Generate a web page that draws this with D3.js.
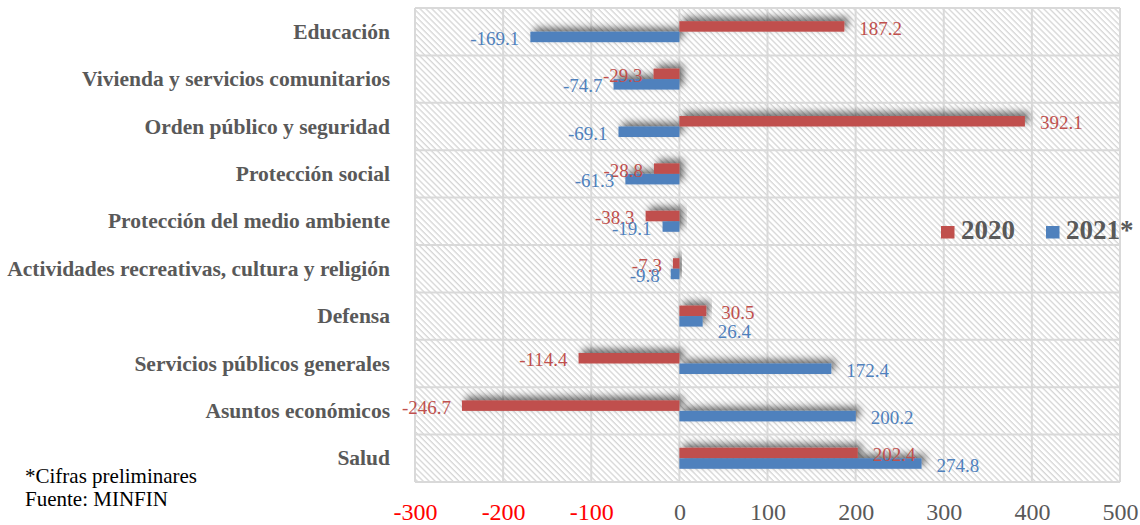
<!DOCTYPE html>
<html><head><meta charset="utf-8">
<script src="https://cdn.jsdelivr.net/npm/d3@7"></script>
<style>
html,body{margin:0;padding:0;background:#fff;}
svg{display:block;}
</style></head>
<body>
<svg id="chart" width="1140" height="525"></svg>
<script>
const categories = ["Educación","Vivienda y servicios comunitarios","Orden público y seguridad","Protección social","Protección del medio ambiente","Actividades recreativas, cultura y religión","Defensa","Servicios públicos generales","Asuntos económicos","Salud"];
const values2020 = [187.2,-29.3,392.1,-28.8,-38.3,-7.3,30.5,-114.4,-246.7,202.4];
const values2021 = [-169.1,-74.7,-69.1,-61.3,-19.1,-9.8,26.4,172.4,200.2,274.8];
const seriesNames = ["2020","2021*"];
const tickValues = [-300,-200,-100,0,100,200,300,400,500];

const colors = {"2020":"#c0504d","2021*":"#4f81bd"};
const serif = "'Liberation Serif','Times New Roman',serif";
const loc = d3.formatLocale({decimal:".", thousands:",", grouping:[3], currency:["",""], minus:"-"});
const fmt1 = loc.format(".1f"), fmt0 = loc.format("d");

const svg = d3.select("#chart");
const pLeft = 415, pRight = 1120, pTop = 8, pBottom = 482;

const x = d3.scaleLinear().domain([-300,500]).range([pLeft,pRight]);
const y = d3.scaleBand().domain(categories).range([pTop,pBottom]).paddingInner(0.557).paddingOuter(0.2785);
const ys = d3.scaleBand().domain(seriesNames).range([0,y.bandwidth()]);

const defs = svg.append("defs");
const pat = defs.append("pattern").attr("id","hatch").attr("patternUnits","userSpaceOnUse")
  .attr("width",4.2).attr("height",4.2).attr("patternTransform","rotate(-45)");
pat.append("rect").attr("width",4.2).attr("height",4.2).attr("fill","#fff");
pat.append("line").attr("x1",1).attr("y1",0).attr("x2",1).attr("y2",4.2)
  .attr("stroke","#d2d2d2").attr("stroke-width",1.2);

const flt = defs.append("filter").attr("id","shadow").attr("x","-20%").attr("y","-200%").attr("width","140%").attr("height","400%");
flt.append("feDropShadow").attr("dx",4).attr("dy",-4).attr("stdDeviation",3.5)
  .attr("flood-color","#000").attr("flood-opacity",0.55);

// plot background
svg.append("rect").attr("x",pLeft).attr("y",pTop).attr("width",pRight-pLeft).attr("height",pBottom-pTop)
  .attr("fill","url(#hatch)");

// grid
const step = y.step();
const rowEdges = d3.range(categories.length+1).map(i => pTop + i*step);
svg.append("g").selectAll("line.h").data(rowEdges).join("line")
  .attr("x1",pLeft).attr("x2",pRight).attr("y1",d=>d).attr("y2",d=>d)
  .attr("stroke","#d9d9d9").attr("stroke-width",2);
svg.append("g").selectAll("line.v").data(tickValues).join("line")
  .attr("x1",d=>x(d)).attr("x2",d=>x(d)).attr("y1",pTop).attr("y2",pBottom)
  .attr("stroke","#d9d9d9").attr("stroke-width",2);

// bars
const rows = categories.map((c,i)=>({cat:c, vals:[{s:"2020",v:values2020[i],cat:c},{s:"2021*",v:values2021[i],cat:c}]}));
const rowG = svg.append("g").selectAll("g.row").data(rows).join("g")
  .attr("transform",d=>`translate(0,${y(d.cat)})`);
rowG.append("g").attr("filter","url(#shadow)").selectAll("rect").data(d=>d.vals).join("rect")
  .attr("x",d=>x(Math.min(0,d.v))).attr("width",d=>Math.abs(x(d.v)-x(0)))
  .attr("y",d=>ys(d.s)).attr("height",ys.bandwidth())
  .attr("fill",d=>colors[d.s]);

// data labels (Defensa 2021 label was nudged down in the original to avoid overlap)
const labelNudge = (d) => (d.cat === "Defensa" && d.s === "2021*") ? 9 : 0;
rowG.selectAll("text.lbl").data(d=>d.vals).join("text")
  .attr("x",d=>d.v>=0 ? x(d.v)+15 : x(d.v)-11)
  .attr("y",d=>ys(d.s)+ys.bandwidth()/2+1.5+labelNudge(d))
  .attr("dy","0.35em")
  .attr("text-anchor",d=>d.v>=0?"start":"end")
  .attr("font-family",serif).attr("font-size",19)
  .attr("fill",d=>colors[d.s])
  .text(d=>fmt1(d.v));

// category labels
svg.append("g").selectAll("text").data(categories).join("text")
  .attr("x",390).attr("y",d=>y(d)+y.bandwidth()/2).attr("dy","0.33em")
  .attr("text-anchor","end").attr("font-family",serif).attr("font-size",21.5)
  .attr("font-weight","bold").attr("fill","#595959").text(d=>d);

// x axis
const axis = d3.axisBottom(x).tickValues(tickValues).tickSize(0).tickPadding(20.5).tickFormat(fmt0);
const ax = svg.append("g").attr("transform",`translate(0,${pBottom})`).call(axis);
ax.select(".domain").remove();
ax.selectAll("text").attr("font-family",serif).attr("font-size",24)
  .attr("fill",d=>d<0?"#ff0000":"#595959");

// legend
const legend = svg.append("g");
const legItems = [{s:"2020",x:941},{s:"2021*",x:1046}];
legend.selectAll("rect").data(legItems).join("rect")
  .attr("x",d=>d.x).attr("y",226).attr("width",13.5).attr("height",12.5)
  .attr("fill",d=>colors[d.s]);
legend.selectAll("text").data(legItems).join("text")
  .attr("x",d=>d.x+20).attr("y",239)
  .attr("font-family",serif).attr("font-size",27).attr("font-weight","bold")
  .attr("fill","#595959").text(d=>d.s);

// footnote
svg.append("text").attr("x",25).attr("y",483).attr("font-family",serif).attr("font-size",21)
  .attr("fill","#000").text("*Cifras preliminares");
svg.append("text").attr("x",25).attr("y",506).attr("font-family",serif).attr("font-size",21)
  .attr("fill","#000").text("Fuente: MINFIN");
</script>
</body></html>
